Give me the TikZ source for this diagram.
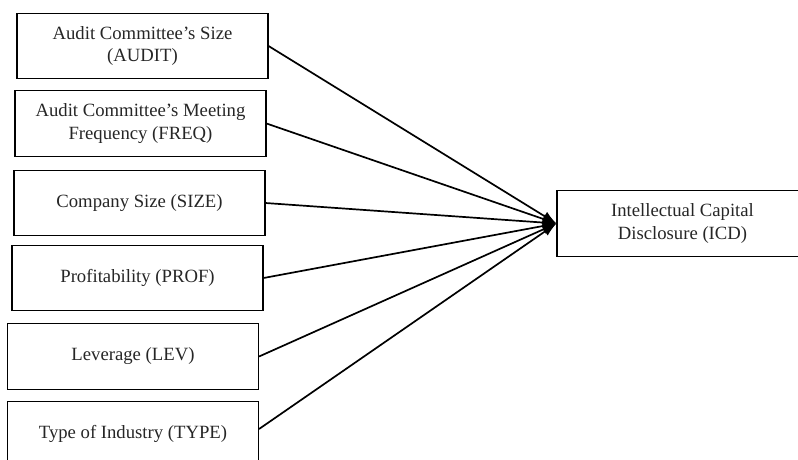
\documentclass[tikz,border=0pt]{standalone}
\usepackage{fontspec}
\setmainfont{Liberation Serif}
\usetikzlibrary{arrows.meta}
\begin{document}
\begin{tikzpicture}[x=1pt,y=-1pt,
  box/.style={draw=black,line width=1.1pt,minimum width=251pt,minimum height=65.5pt,
    align=center,inner sep=0pt,text=black!85,font=\fontsize{18.7}{22.6}\selectfont},
  conn/.style={line width=1.7pt,-{Latex[length=14pt,width=10pt]}}]
\useasboundingbox (0,0) rectangle (798,459);
\begin{scope}
\clip (0,0) rectangle (798,459);
\node[box] (audit) at (142.5,46) {Audit Committee's Size\\(AUDIT)};
\node[box] (freq) at (140.5,123.5) {Audit Committee's Meeting\\Frequency (FREQ)};
\node[box] (size) at (139.5,203) {Company Size (SIZE)};
\node[box] (prof) at (137.5,278) {Profitability (PROF)};
\node[box] (lev) at (133,356.5) {Leverage (LEV)};
\node[box, text depth=0pt] (type) at (133,434) {\raisebox{5pt}{Type of Industry (TYPE)}};
\node[box] (icd) at (682.5,223.5) {Intellectual Capital\\Disclosure (ICD)};
\coordinate (typeout) at ([yshift=5pt]type.east);
\draw[conn] (audit.east) -- (icd.west);
\draw[conn] (freq.east) -- (icd.west);
\draw[conn] (size.east) -- (icd.west);
\draw[conn] (prof.east) -- (icd.west);
\draw[conn] (lev.east) -- (icd.west);
\draw[conn] (typeout) -- (icd.west);
\end{scope}
\end{tikzpicture}
\end{document}
